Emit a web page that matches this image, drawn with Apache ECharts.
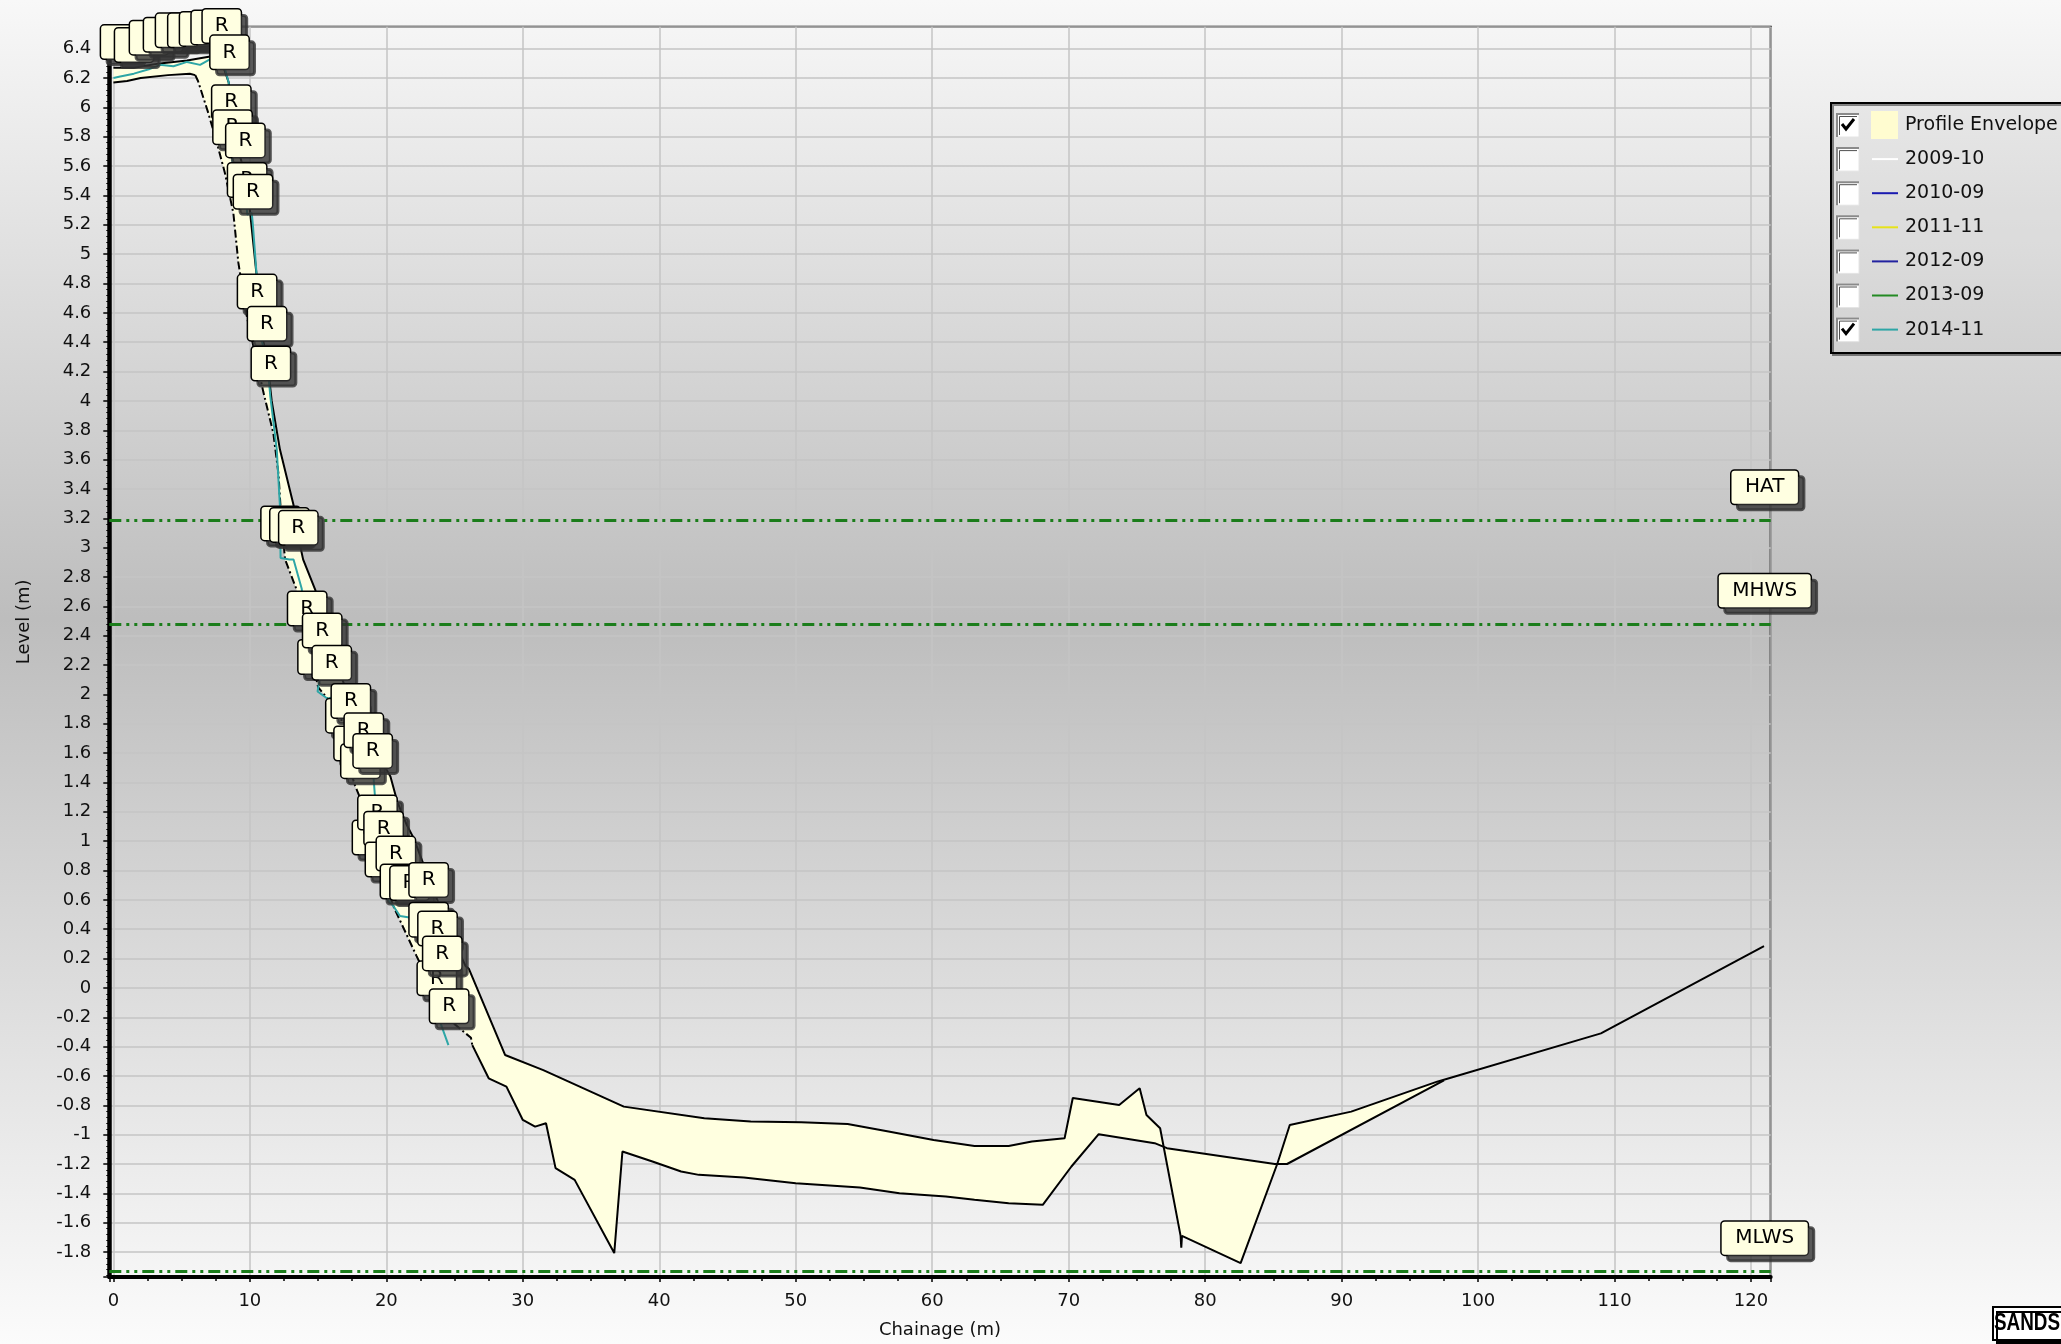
<!DOCTYPE html>
<html>
<head>
<meta charset="utf-8">
<script src="https://cdn.jsdelivr.net/npm/echarts@6/dist/echarts.min.js"></script>
<style>
html,body{margin:0;padding:0;background:#ffffff;}
#c{width:2061px;height:1344px;}
</style>
</head>
<body>
<div id="c"></div>
<script>
// ---------------- data ----------------
const chainageRange = [-0.3, 121.44];
const levelRange = [-1.97, 6.55];

// upper / right edge of the profile envelope (chainage m, level m)
const profileUpper = [
  [0,6.27],[1.5,6.27],[3.4,6.3],[5.4,6.32],[7.3,6.35],[7.9,6.32],[8.45,6.17],[8.8,5.85],
  [9.6,5.55],[10.0,5.3],[10.5,4.85],[10.8,4.5],[11.3,4.25],[11.6,4.0],[12.2,3.67],[13.2,3.29],
  [13.6,3.05],[13.9,2.92],[14.8,2.71],[15.6,2.45],[16.7,2.12],[17.8,1.85],[19.3,1.6],[20.3,1.44],
  [20.8,1.27],[21.5,1.11],[22.0,1.02],[23.3,0.7],[24.8,0.35],[25.8,0.15],[26.05,0.13],[28.7,-0.457],
  [31.5,-0.56],[37.4,-0.809],[43.3,-0.888],[46.7,-0.911],[50.4,-0.916],[53.8,-0.927],[56.8,-0.979],
  [60.1,-1.036],[63.1,-1.077],[65.6,-1.077],[67.3,-1.047],[69.7,-1.024],[70.3,-0.75],[73.7,-0.798],
  [75.2,-0.684],[75.7,-0.866],[76.7,-0.956],[78.2,-1.69],[78.25,-1.77],[78.3,-1.69],[82.6,-1.875],
  [85.3,-1.195],[86.2,-0.934],[90.7,-0.843],[97.0,-0.639],[109.0,-0.31],[120.95,0.284]
];
// lower / left edge of the profile envelope
const profileLower = [
  [0,6.17],[1.0,6.18],[2.0,6.2],[4.0,6.22],[5.6,6.23],[6.0,6.22],[6.2,6.18],[6.96,5.96],
  [7.58,5.76],[8.18,5.55],[8.79,5.28],[9.16,4.94],[9.77,4.58],[10.99,4.06],[11.72,3.78],[12.1,3.5],
  [12.3,3.2],[12.58,2.92],[13.4,2.72],[14.2,2.4],[15.0,2.05],[15.7,1.97],[16.8,1.65],[17.7,1.38],
  [18.1,1.29],[19.0,1.0],[19.8,0.75],[20.5,0.56],[22.2,0.22],[24.4,-0.2],[26.2,-0.34],[26.3,-0.39],
  [27.5,-0.616],[28.8,-0.673],[30.0,-0.9],[30.9,-0.945],[31.7,-0.922],[32.4,-1.228],[33.8,-1.308],
  [36.7,-1.807],[37.3,-1.115],[39.5,-1.183],[41.6,-1.251],[42.9,-1.274],[46.2,-1.292],[50.0,-1.331],
  [54.7,-1.36],[57.6,-1.399],[61.0,-1.421],[63.1,-1.444],[65.6,-1.467],[68.1,-1.478],[70.2,-1.217],
  [72.2,-0.997],[76.3,-1.058],[77.2,-1.092],[85.1,-1.2],[86.0,-1.2],[97.5,-0.63]
];
// 2014-11 survey line
const survey2014 = [
  [0,6.2],[0.5,6.21],[1.5,6.23],[2.6,6.26],[3.4,6.29],[4.4,6.28],[5.4,6.31],[6.35,6.29],[7.3,6.34],
  [8.0,6.32],[8.45,6.17],[8.64,5.8],[8.73,5.63],[9.67,5.54],[9.8,5.27],[10.14,5.28],[10.23,5.19],
  [10.5,4.85],[10.53,4.51],[11.26,4.29],[11.5,4.03],[11.97,3.67],[12.2,3.29],[12.25,2.93],[12.9,2.92],
  [13.2,2.92],[13.8,2.72],[14.2,2.35],[15.3,2.2],[14.96,2.02],[15.7,1.97],[16.0,1.98],[17.4,1.72],
  [17.0,1.62],[18.35,1.52],[17.6,1.43],[19.05,1.45],[19.17,1.3],[19.35,0.96],[18.95,0.79],[19.8,0.85],
  [20.0,0.61],[20.5,0.56],[21.0,0.49],[21.7,0.48],[23.1,0.5],[23.1,0.23],[23.75,0.17],[24.1,0.0],
  [23.7,-0.17],[24.55,-0.39]
];
// survey points flagged "R"
const rPoints = [
  [0.49,6.21],[1.52,6.19],[2.61,6.24],[3.64,6.26],[4.52,6.29],[5.42,6.29],[6.28,6.30],[7.13,6.31],
  [7.94,6.32],[8.51,6.14],[8.64,5.8],[8.73,5.63],[9.67,5.54],[9.8,5.27],[10.23,5.19],[10.53,4.51],
  [11.26,4.29],[11.54,4.02],[12.25,2.93],[12.9,2.92],[13.55,2.9],[14.2,2.35],[14.96,2.02],[15.3,2.2],
  [16.0,1.98],[17.0,1.62],[17.4,1.72],[17.6,1.43],[18.1,1.31],[18.35,1.52],[18.95,0.79],[19.0,1.38],
  [19.35,0.96],[19.8,0.85],[19.9,0.64],[20.7,0.68],[21.0,0.49],[21.7,0.48],[23.1,0.5],[23.1,0.23],
  [23.7,-0.17],[23.75,0.17],[24.1,0.0],[24.6,-0.36]
];
const rLabel = 'R';

const tideNames = ['HAT', 'MHWS', 'MLWS'];
const tideLevels = [3.19, 2.485, -1.927];
const tideLabelChainage = 121.0;

const legendNames = ['Profile Envelope', '2009-10', '2010-09', '2011-11', '2012-09', '2013-09', '2014-11'];
const legendChecked = [true, false, false, false, false, false, true];

// ---------------- styles ----------------
const legendColors = ['#fffcd0', '#ffffff', '#1a1ab0', '#e6e21a', '#2222a0', '#238a23', '#2ea6a6'];
const FONT = 'DejaVu Sans';
const ENV_FILL = '#ffffe0';
const TEAL = '#2ea6a6';

const lastLowerX = profileLower[profileLower.length - 1][0];
const envelopePolygon = profileUpper.filter(p => p[0] <= lastLowerX).concat(profileLower.slice().reverse());
const lowerTop = profileLower.filter(p => p[0] <= 6.0);
const lowerSteep = profileLower.filter(p => p[0] >= 6.0 && p[0] <= 26.3);
const lowerRest = profileLower.filter(p => p[0] >= 26.3);

const chart = echarts.init(document.getElementById('c'), null, {renderer: 'canvas'});

const boxLabel = {
  show: true,
  position: 'top',
  opacity: 1,
  fontFamily: FONT,
  fontSize: 20,
  lineHeight: 20,
  color: '#000',
  backgroundColor: '#ffffe1',
  borderColor: '#000',
  borderWidth: 1.5,
  borderRadius: 3,
  shadowColor: 'rgba(50,50,50,0.8)',
  shadowOffsetX: 6,
  shadowOffsetY: 6,
  shadowBlur: 0
};

// legend graphics
const legendEls = [];
legendEls.push({
  type: 'rect', shape: {x: 1831, y: 103, width: 320, height: 250},
  style: {fill: 'rgba(255,255,255,0.08)', stroke: '#000', lineWidth: 2,
          shadowColor: 'rgba(0,0,0,0.45)', shadowOffsetX: 2, shadowOffsetY: 2}
});
legendNames.forEach((name, i) => {
  const cy = 125 + i * 34.1;
  legendEls.push({type: 'rect', shape: {x: 1836, y: cy - 12, width: 23, height: 24},
    style: {fill: '#ffffff', stroke: '#e4e4e4', lineWidth: 1}});
  legendEls.push({type: 'polyline', shape: {points: [[1837, cy + 12], [1837, cy - 11], [1859, cy - 11]]},
    style: {fill: null, stroke: '#8a8a8a', lineWidth: 2}});
  legendEls.push({type: 'polyline', shape: {points: [[1839.5, cy + 10], [1839.5, cy - 8.5], [1857, cy - 8.5]]},
    style: {fill: null, stroke: '#505050', lineWidth: 1}});
  if (legendChecked[i]) {
    legendEls.push({type: 'polyline', shape: {points: [[1842, cy - 1], [1846, cy + 4], [1854, cy - 6]]},
      style: {fill: null, stroke: '#000', lineWidth: 3}});
  }
  if (i === 0) {
    legendEls.push({type: 'rect', shape: {x: 1871, y: cy - 14, width: 27, height: 28},
      style: {fill: legendColors[i], stroke: null}});
  } else {
    legendEls.push({type: 'line', shape: {x1: 1872, y1: cy, x2: 1898, y2: cy},
      style: {stroke: legendColors[i], lineWidth: 2}});
  }
  legendEls.push({type: 'text', x: 1905, y: cy,
    style: {text: name, fontFamily: FONT, fontSize: 19, fill: '#111', align: 'left', verticalAlign: 'middle'}});
});
// SANDS logo
legendEls.push({type: 'rect', shape: {x: 1993, y: 1307, width: 120, height: 33},
  style: {fill: '#ffffff', stroke: '#000', lineWidth: 2, shadowColor: '#000', shadowOffsetX: 4, shadowOffsetY: 5, shadowBlur: 0}});
legendEls.push({type: 'text', x: 1994, y: 1324, scaleX: 0.82,
  style: {text: 'SANDS', fontFamily: 'Liberation Sans', fontWeight: 'bold', fontSize: 23, fill: '#000', align: 'left', verticalAlign: 'middle'}});

const option = {
  animation: false,
  backgroundColor: new echarts.graphic.LinearGradient(0, 0, 0, 1, [
    {offset: 0, color: '#f8f8f8'},
    {offset: 0.46, color: '#bdbdbd'},
    {offset: 1, color: '#fbfbfb'}
  ]),
  textStyle: {fontFamily: FONT},
  grid: {left: 109.3, right: 290.3, top: 26.7, bottom: 65.7, show: true,
         borderColor: '#000', borderWidth: 2, backgroundColor: 'transparent', containLabel: false},
  xAxis: {
    type: 'value', min: chainageRange[0], max: chainageRange[1], splitNumber: 12,
    name: 'Chainage (m)', nameLocation: 'middle', nameGap: 44,
    nameTextStyle: {fontFamily: FONT, fontSize: 18, color: '#111'},
    axisLine: {show: true, onZero: false, lineStyle: {color: '#000', width: 4}},
    axisTick: {show: true, length: 5, lineStyle: {color: '#000', width: 1.5}},
    minorTick: {show: true, splitNumber: 4, length: 4, lineStyle: {color: '#000', width: 1.5}},
    axisLabel: {show: true, margin: 15, fontFamily: FONT, fontSize: 18, color: '#111',
                showMinLabel: false, showMaxLabel: false},
    splitLine: {show: true, lineStyle: {color: '#c4c4c4', width: 1.5}},
    minorSplitLine: {show: false}
  },
  yAxis: {
    type: 'value', min: levelRange[0], max: levelRange[1], splitNumber: 43,
    name: 'Level (m)', nameLocation: 'middle', nameGap: 76, nameRotate: 90,
    nameTextStyle: {fontFamily: FONT, fontSize: 18, color: '#111', padding: [0, 0, 0, 60]},
    axisLine: {show: true, onZero: false, lineStyle: {color: '#000', width: 4.5}},
    axisTick: {show: true, length: 6, lineStyle: {color: '#000', width: 1.5}},
    minorTick: {show: true, splitNumber: 5, length: 3, lineStyle: {color: '#000', width: 1}},
    axisLabel: {show: true, margin: 18, fontFamily: FONT, fontSize: 18, color: '#111',
                showMinLabel: false, showMaxLabel: false},
    splitLine: {show: true, lineStyle: {color: '#c4c4c4', width: 1.5}},
    minorSplitLine: {show: false}
  },
  graphic: legendEls,
  series: [
    {
      type: 'custom', name: 'Profile Envelope', coordinateSystem: 'cartesian2d',
      data: [[0, 0]], silent: true, z: 1, clip: true,
      renderItem: function (params, api) {
        return {
          type: 'polygon',
          shape: {points: envelopePolygon.map(p => api.coord(p))},
          style: {fill: ENV_FILL, stroke: null}
        };
      }
    },
    {type: 'line', name: 'upper', data: profileUpper, showSymbol: false, symbol: 'none', z: 3, silent: true,
     lineStyle: {color: '#000', width: 2}},
    {type: 'line', name: 'lowerTop', data: lowerTop, showSymbol: false, symbol: 'none', z: 3, silent: true,
     lineStyle: {color: '#000', width: 2}},
    {type: 'line', name: 'lowerSteep', data: lowerSteep, showSymbol: false, symbol: 'none', z: 3, silent: true,
     lineStyle: {color: '#000', width: 2, type: [8, 3, 2, 3]}},
    {type: 'line', name: 'lowerRest', data: lowerRest, showSymbol: false, symbol: 'none', z: 3, silent: true,
     lineStyle: {color: '#000', width: 2}},
    {type: 'line', name: '2014-11', data: survey2014, showSymbol: false, symbol: 'none', z: 4, silent: true,
     lineStyle: {color: TEAL, width: 2}},
    {
      type: 'scatter', name: 'tides', z: 9, silent: true, clip: false,
      data: tideLevels.map((l, i) => ({value: [tideLabelChainage, l], name: tideNames[i]})),
      symbolSize: 0, itemStyle: {color: '#000', opacity: 1},
      label: Object.assign({}, boxLabel, {formatter: '{b}', distance: 16, padding: [6.5, 13.5, 6.5, 13.5]}),
      markLine: {
        silent: true, symbol: ['none', 'none'], label: {show: false},
        lineStyle: {color: '#1b7d1b', width: 3, type: [12, 5, 3, 5, 3, 5], opacity: 1},
        data: tideLevels.map(l => ({yAxis: l}))
      }
    },
    {
      type: 'scatter', name: 'R', z: 10, silent: true, clip: false,
      data: rPoints, symbolSize: 0, itemStyle: {color: '#000', opacity: 1},
      label: Object.assign({}, boxLabel, {formatter: rLabel, distance: 18, padding: [6.5, 12, 6.5, 12]})
    }
  ]
};
chart.setOption(option);
</script>
</body>
</html>
